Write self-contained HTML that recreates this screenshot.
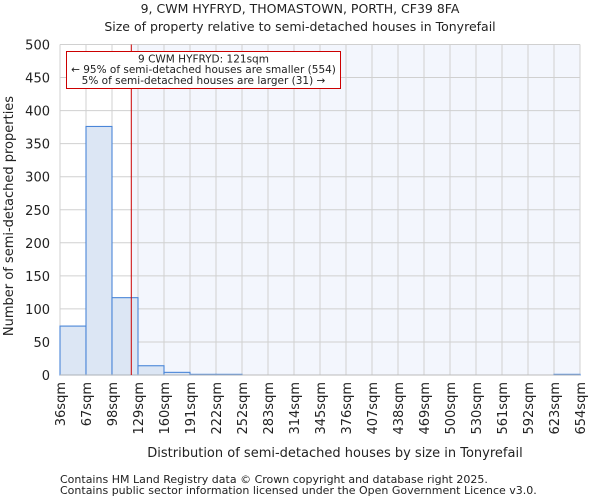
<!DOCTYPE html>
<html><head><meta charset="utf-8"><style>
body{margin:0;background:#fff;font-family:"DejaVu Sans","Liberation Sans",sans-serif;}
svg text{font-family:"DejaVu Sans","Liberation Sans",sans-serif;fill:#222;}
</style></head><body>
<svg id="chart" width="600" height="500" xmlns="http://www.w3.org/2000/svg">
<text x="300" y="13" text-anchor="middle" font-size="12.5">9, CWM HYFRYD, THOMASTOWN, PORTH, CF39 8FA</text>
<text x="300" y="31" text-anchor="middle" font-size="12.5">Size of property relative to semi-detached houses in Tonyrefail</text>
<g id="plot"></g>
<text x="335" y="457" text-anchor="middle" font-size="13">Distribution of semi-detached houses by size in Tonyrefail</text>
<text transform="translate(13,216) rotate(-90)" text-anchor="middle" font-size="13">Number of semi-detached properties</text>
<text x="60" y="483" font-size="11">Contains HM Land Registry data © Crown copyright and database right 2025.</text>
<text x="60" y="494" font-size="11">Contains public sector information licensed under the Open Government Licence v3.0.</text>
</svg>
<script>
const binEdges=[36,67,98,129,160,191,222,252,283,314,345,376,407,438,469,500,530,561,592,623,654];
const counts=[74,376,117,14,4,1,1,0,0,0,0,0,0,0,0,0,0,0,0,1];
const yTicks=[0,50,100,150,200,250,300,350,400,450,500];
const subjectSize=121;
const NS="http://www.w3.org/2000/svg";
const L=60,R=580,T=44.5,B=375;
const n=counts.length;
function xIdx(i){return L+(R-L)*i/n;}
function xVal(v){for(let i=0;i<n;i++){if(v<=binEdges[i+1]){return xIdx(i)+(v-binEdges[i])/(binEdges[i+1]-binEdges[i])*(R-L)/n;}}return R;}
function y(v){return B-(B-T)*v/500;}
const g=document.getElementById('plot');
function mk(tag,attrs){const e=document.createElementNS(NS,tag);for(const k in attrs)e.setAttribute(k,attrs[k]);g.appendChild(e);return e;}
const sx=xVal(subjectSize);
let bg=mk('rect',{x:sx,y:T,width:R-sx,height:B-T,fill:'#f3f6fd'});


for(let i=0;i<=n;i++){const l=mk('line',{x1:xIdx(i),x2:xIdx(i),y1:T,y2:B,stroke:'#d0d0d0','stroke-width':1});

}
yTicks.forEach(t=>{const l=mk('line',{x1:L,x2:R,y1:y(t),y2:y(t),stroke:'#d0d0d0','stroke-width':1});


const tx=mk('text',{x:L-10,y:y(t)+5,'text-anchor':'end','font-size':13});tx.textContent=t;

});
counts.forEach((c,i)=>{if(c<=0)return;const r=mk('rect',{x:xIdx(i),y:y(c),width:(R-L)/n,height:B-y(c),fill:'#dce6f4',stroke:'#4a86d8','stroke-width':1.1});

});
binEdges.forEach((e,i)=>{const x=xIdx(i);const tx=mk('text',{transform:`translate(${x+5},382) rotate(-90)`,'text-anchor':'end','font-size':13});tx.textContent=e+'sqm';

});
const ax=mk('line',{x1:L,x2:R,y1:B,y2:B,stroke:'#bbbbbb','stroke-width':1});


const ml=mk('line',{x1:sx,x2:sx,y1:T,y2:B,stroke:'#cc0000','stroke-width':1});


const box=mk('rect',{x:66.5,y:51.5,width:274,height:37,fill:'#fff',stroke:'#cc0000','stroke-width':1});


const lines=['9 CWM HYFRYD: 121sqm','← 95% of semi-detached houses are smaller (554)','5% of semi-detached houses are larger (31) →'];
lines.forEach((s,i)=>{const tx=mk('text',{x:203.5,y:62.5+i*10.7,'text-anchor':'middle','font-size':10.5});tx.textContent=s;

});
</script>
</body></html>
